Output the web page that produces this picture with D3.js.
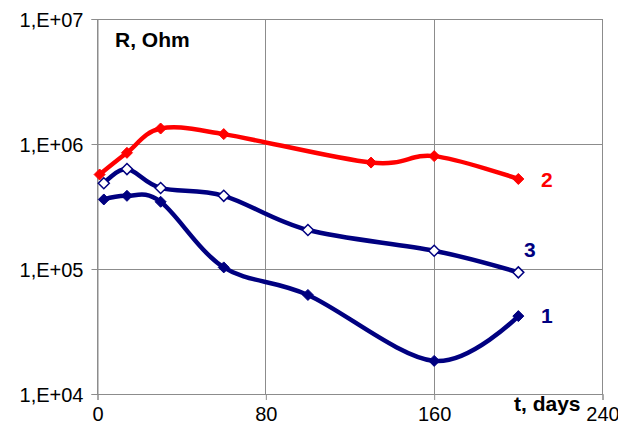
<!DOCTYPE html>
<html><head><meta charset="utf-8">
<script src="https://cdn.jsdelivr.net/npm/d3@7"></script>
<style>body{margin:0;background:#fff}svg{display:block}text{font-family:"Liberation Sans",Arial,sans-serif}</style>
</head><body>
<svg id="c" width="618" height="430"></svg>
<script>
const xTicks = [0, 80, 160, 240];
const yTicks = [1e4, 1e5, 1e6, 1e7];
const yTickLabels = ["1,E+04", "1,E+05", "1,E+06", "1,E+07"];
const days1 = [3, 14, 30, 60, 100, 160, 200];
const series1 = [3.6e5, 3.85e5, 3.45e5, 1.03e5, 6.2e4, 1.84e4, 4.2e4];
const days2 = [1, 14, 30, 60, 130, 160, 200];
const series2 = [5.7e5, 8.5e5, 1.33e6, 1.2e6, 7.1e5, 8.0e5, 5.25e5];
const days3 = [3, 14, 30, 60, 100, 160, 200];
const series3 = [4.85e5, 6.3e5, 4.45e5, 3.85e5, 2.05e5, 1.4e5, 9.4e4];

const svg = d3.select("#c");
const L = 97.5, R = 602.5, T = 19, B = 394;
const x = d3.scaleLinear().domain([0, 240]).range([L, R]);
const y = d3.scaleLog().domain([1e4, 1e7]).range([B, T]);
const grid = "#8c8c8c";

// gridlines
svg.append("g").selectAll("line").data(yTicks).join("line")
  .attr("x1", L).attr("x2", R).attr("y1", d => y(d)).attr("y2", d => y(d))
  .attr("stroke", grid).attr("stroke-width", 1).attr("shape-rendering", "crispEdges");
svg.append("g").selectAll("line").data(xTicks).join("line")
  .attr("y1", T).attr("y2", B).attr("x1", d => x(d)).attr("x2", d => x(d))
  .attr("stroke", grid).attr("stroke-width", 1).attr("shape-rendering", "crispEdges");

// axes
const yAxis = d3.axisLeft(y).tickValues(yTicks).tickSize(6).tickPadding(8)
  .tickFormat((d, i) => yTickLabels[i]);
const gy = svg.append("g").attr("transform", `translate(${L},0)`).call(yAxis);
gy.select(".domain").attr("stroke", grid);
gy.selectAll(".tick line").attr("stroke", grid);
gy.selectAll("text").attr("font-size", 20).attr("fill", "#000").attr("dy", "0.35em")
  .style("font-family", '"Liberation Sans",Arial,sans-serif');

const xAxis = d3.axisBottom(x).tickValues(xTicks).tickSize(6).tickPadding(7).tickFormat(d3.format("d"));
const gx = svg.append("g").attr("transform", `translate(0,${B})`).call(xAxis);
gx.select(".domain").attr("stroke", grid);
gx.selectAll(".tick line").attr("stroke", grid);
gx.selectAll("text").attr("font-size", 20).attr("fill", "#000")
  .style("font-family", '"Liberation Sans",Arial,sans-serif');

const curve = d3.curveCardinal.tension(0);
const line = d3.line().x(d => x(d[0])).y(d => y(d[1])).curve(curve);

const sets = [
  {d: days2, v: series2, color: "#ff0000", fill: "#ff0000"},
  {d: days3, v: series3, color: "#000080", fill: "#ffffff"},
  {d: days1, v: series1, color: "#000080", fill: "#000080"}
];
sets.forEach(s => {
  const pts = s.d.map((d, i) => [d, s.v[i]]);
  svg.append("path").datum(pts).attr("d", line).attr("fill", "none")
    .attr("stroke", s.color).attr("stroke-width", 4.5).attr("stroke-linejoin", "round");
  svg.append("g").selectAll("path").data(pts).join("path")
    .attr("d", "M0,-5.5L5.5,0L0,5.5L-5.5,0Z")
    .attr("transform", p => `translate(${x(p[0])},${y(p[1])})`)
    .attr("fill", s.fill).attr("stroke", s.color).attr("stroke-width", s.fill === "#ffffff" ? 1.5 : 1);
});

// labels
svg.append("text").attr("x", 115).attr("y", 47).attr("font-size", 21).attr("font-weight", "bold").attr("fill", "#000").text("R, Ohm");
svg.append("text").attr("x", 514).attr("y", 411).attr("font-size", 21).attr("font-weight", "bold").attr("fill", "#000").text("t, days");
svg.append("text").attr("x", 541).attr("y", 187).attr("font-size", 21).attr("font-weight", "bold").attr("fill", "#ff0000").text("2");
svg.append("text").attr("x", 524).attr("y", 257).attr("font-size", 21).attr("font-weight", "bold").attr("fill", "#000080").text("3");
svg.append("text").attr("x", 541).attr("y", 323).attr("font-size", 21).attr("font-weight", "bold").attr("fill", "#000080").text("1");
</script>
</body></html>
